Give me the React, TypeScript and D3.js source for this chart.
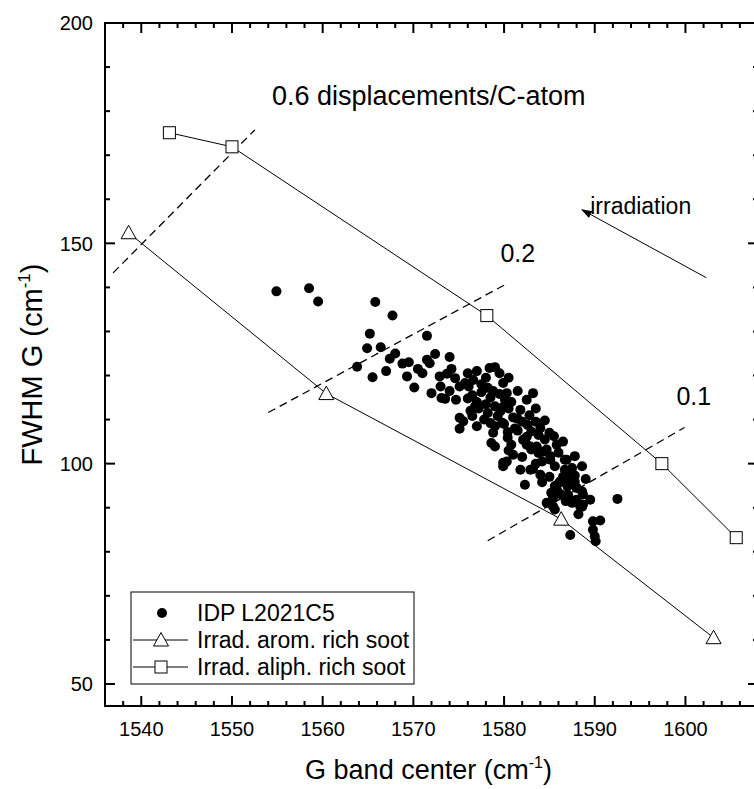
import React from "react";
import * as d3 from "d3";

const idpPoints: [number, number][] = [
  [1554.9,139.1],[1558.5,139.8],[1559.5,136.8],[1565.8,136.7],[1567.7,133.6],[1565.2,129.5],[1564.9,126.2],[1566.4,126.4],
  [1563.8,122.0],[1565.5,119.6],[1567.4,123.8],[1568.8,122.7],[1569.5,123.0],[1569.3,119.8],[1570.1,117.3],[1571.5,129.0],
  [1571.5,123.6],[1572.4,124.9],[1571.8,122.8],[1574.0,124.2],[1572.9,119.8],[1573.7,120.4],[1574.6,119.4],[1573.1,114.9],
  [1573.5,114.7],[1574.7,114.5],[1575.1,117.5],[1575.7,118.3],[1576.1,117.5],[1576.6,119.0],[1578.4,121.7],[1579.0,121.9],
  [1578.2,117.2],[1579.9,118.3],[1580.3,116.0],[1580.1,114.5],[1579.6,111.9],[1583.2,116.0],[1581.8,112.2],[1575.1,110.4],
  [1575.5,109.6],[1575.1,107.9],[1578.8,107.0],[1579.0,103.9],[1578.6,104.7],[1580.8,104.3],[1582.6,108.8],[1583.0,107.3],
  [1584.0,108.1],[1582.1,105.4],[1582.5,104.3],[1583.0,103.2],[1583.6,103.9],[1583.8,102.4],[1584.7,103.2],[1585.1,101.7],
  [1585.8,104.3],[1580.3,100.5],[1579.9,99.4],[1581.8,98.6],[1582.9,98.6],[1583.2,98.8],[1582.3,95.2],[1585.6,99.4],
  [1586.9,100.9],[1586.7,98.6],[1587.8,101.7],[1588.6,99.4],[1586.2,96.0],[1587.0,94.8],[1587.8,97.3],[1586.5,97.0],
  [1585.6,94.9],[1585.2,93.4],[1585.4,92.2],[1586.3,93.0],[1584.7,91.1],[1585.4,90.3],[1585.6,89.6],[1587.1,92.6],
  [1587.5,91.1],[1588.4,90.3],[1588.7,90.7],[1588.6,93.7],[1588.7,93.0],[1589.5,91.8],[1592.5,92.0],[1589.8,86.9],
  [1590.6,87.1],[1589.8,85.0],[1590.0,83.5],[1590.1,82.4],[1587.3,83.8],
  [1579.9,112.9],[1579.8,109.3],[1581.2,108.0],[1581.5,110.2],[1580.4,107.2],[1580.4,105.9],[1582.5,106.1],[1582.9,103.9],
  [1584.3,102.7],[1585.1,100.9],[1586.7,100.9],[1579.9,100.2],[1586.9,98.0],[1587.3,96.4],[1587.8,95.9],[1585.9,93.7],
  [1587.0,93.0],[1588.0,91.8],[1588.6,90.2],
  [1576.5,115.5],[1577.0,114.0],[1577.5,116.2],[1578.0,113.5],[1578.5,115.0],[1579.0,113.0],[1577.2,112.5],[1576.8,113.0],
  [1578.2,111.5],[1579.3,110.8],[1577.8,110.0],[1576.0,114.8],[1576.3,112.0],[1578.8,116.5],[1577.5,118.0],[1579.5,115.8],
  [1580.8,114.0],[1580.5,112.5],[1581.0,110.5],[1582.0,109.5],[1581.5,107.5],[1583.5,109.5],[1580.0,109.0],[1579.0,108.5],
  [1577.0,108.5],[1576.5,110.8],[1578.5,109.2],[1582.8,111.0],[1584.5,105.5],[1584.2,100.5],[1583.5,100.0],[1581.0,102.0],
  [1580.5,103.0],[1582.0,101.5],[1584.0,97.5],[1585.0,97.0],[1586.0,95.5],[1587.0,96.0],[1588.0,94.5],[1587.5,99.0],
  [1586.0,102.5],[1589.0,96.5],[1588.2,88.5],[1586.8,91.5],[1584.2,95.8],[1583.8,106.5],[1574.0,116.5],[1573.0,117.5],
  [1572.0,116.0],[1571.0,120.5],[1570.5,121.5],[1568.0,125.0],[1567.0,121.0],[1574.2,121.5],[1576.0,120.5],[1577.0,121.0],
  [1578.0,119.5],[1580.5,119.5],[1579.5,120.5],[1581.5,116.5],[1582.5,114.5],[1583.5,112.5],[1584.5,109.8],[1585.0,107.0],
  [1586.5,105.0],[1585.5,106.2],
];

const aromX = [1538.6, 1560.4, 1586.3, 1603.1];
const aromY = [152.4, 115.9, 87.4, 60.5];
const aliphX = [1543.1, 1550.0, 1578.1, 1597.4, 1605.6];
const aliphY = [175.1, 171.9, 133.6, 100.0, 83.2];

const dashed06: [number, number][] = [[1536.9, 143.3], [1552.5, 175.7]];
const dashed02: [number, number][] = [[1554.0, 111.6], [1580.1, 140.6]];
const dashed01: [number, number][] = [[1578.2, 82.5], [1599.9, 108.2]];

const xMajor = [1540, 1550, 1560, 1570, 1580, 1590, 1600];
const yMajor = [50, 100, 150, 200];

const legendLabels = ["IDP L2021C5", "Irrad. arom. rich soot", "Irrad. aliph. rich soot"];

const W = 754, H = 789;
const L = 105, R = 758, T = 23, B = 706;

const font = "'Liberation Sans', Arial, Helvetica, sans-serif";

function tri(cx: number, cy: number) {
  return `M${cx},${cy - 7.5}L${cx + 7.5},${cy + 6}L${cx - 7.5},${cy + 6}Z`;
}

export default function App() {
  const x = d3.scaleLinear().domain([1536, 1608]).range([L, R]);
  const y = d3.scaleLinear().domain([45, 200]).range([B, T]);
  const line = d3.line<[number, number]>().x((d) => x(d[0])).y((d) => y(d[1]));

  const xMinor = d3.range(1536, 1609, 2).filter((v) => v % 10 !== 0);
  const yMinor = d3.range(50, 201, 10).filter((v) => v % 50 !== 0);

  const aromPts = aromX.map((v, i) => [v, aromY[i]] as [number, number]);
  const aliphPts = aliphX.map((v, i) => [v, aliphY[i]] as [number, number]);

  const legX = 131, legTop = 592, legBot = 684, legR = 414;
  const rows = [613, 640, 667];

  return (
    <svg width={W} height={H} style={{ position: "fixed", left: 0, top: 0, background: "#fff" }} fontFamily={font}>
      <rect x={0} y={0} width={W} height={H} fill="#fff" />
      {[dashed06, dashed02, dashed01].map((d, i) => (
        <path key={i} d={line(d) || ""} fill="none" stroke="#000" strokeWidth={1.3} strokeDasharray="8,5" />
      ))}
      <path d={line(aromPts) || ""} fill="none" stroke="#000" strokeWidth={1} />
      <path d={line(aliphPts) || ""} fill="none" stroke="#000" strokeWidth={1} />
      {idpPoints.map((d, i) => (
        <circle key={i} cx={x(d[0])} cy={y(d[1])} r={5} fill="#000" />
      ))}
      {aromPts.map((d, i) => (
        <path key={i} d={tri(x(d[0]), y(d[1]))} fill="#fff" stroke="#000" strokeWidth={1} />
      ))}
      {aliphPts.map((d, i) => (
        <rect key={i} x={x(d[0]) - 6} y={y(d[1]) - 6} width={12} height={12} fill="#fff" stroke="#000" strokeWidth={1} />
      ))}
      <text x={x(1554.4)} y={y(181.4)} fontSize={27}>0.6 displacements/C-atom</text>
      <text x={x(1579.6)} y={y(145.8)} fontSize={25}>0.2</text>
      <text x={x(1599.0)} y={y(113.2)} fontSize={25}>0.1</text>
      <text x={x(1589.5)} y={y(156.7)} fontSize={23}>irradiation</text>
      <defs>
        <marker id="ah" viewBox="0 0 10 10" refX={9} refY={5} markerWidth={11} markerHeight={11} markerUnits="userSpaceOnUse" orient="auto">
          <path d="M0,1.5L10,5L0,8.5Z" fill="#000" />
        </marker>
      </defs>
      <line x1={x(1602.3)} y1={y(142.2)} x2={x(1588.6)} y2={y(157.6)} stroke="#000" strokeWidth={1} markerEnd="url(#ah)" />
      <rect x={legX} y={legTop} width={legR - legX} height={legBot - legTop} fill="#fff" stroke="#000" strokeWidth={1} />
      <circle cx={162} cy={rows[0]} r={5} fill="#000" />
      <line x1={133} x2={188} y1={rows[1]} y2={rows[1]} stroke="#000" strokeWidth={1} />
      <path d={tri(161, rows[1])} fill="#fff" stroke="#000" />
      <line x1={133} x2={188} y1={rows[2]} y2={rows[2]} stroke="#000" strokeWidth={1} />
      <rect x={155} y={rows[2] - 6} width={12} height={12} fill="#fff" stroke="#000" />
      {legendLabels.map((t, i) => (
        <text key={i} x={197} y={rows[i]} dy="0.36em" fontSize={23}>{t}</text>
      ))}
      <rect x={L} y={T} width={R - L} height={B - T} fill="none" stroke="#000" strokeWidth={2} />
      {xMajor.map((v) => (
        <g key={"xm" + v}>
          <line x1={x(v)} x2={x(v)} y1={B} y2={B - 10} stroke="#000" strokeWidth={2} />
          <line x1={x(v)} x2={x(v)} y1={T} y2={T + 10} stroke="#000" strokeWidth={2} />
          <text x={x(v)} y={736} textAnchor="middle" fontSize={20}>{v}</text>
        </g>
      ))}
      {xMinor.map((v) => (
        <g key={"xn" + v}>
          <line x1={x(v)} x2={x(v)} y1={B} y2={B - 5} stroke="#000" strokeWidth={2} />
          <line x1={x(v)} x2={x(v)} y1={T} y2={T + 5} stroke="#000" strokeWidth={2} />
        </g>
      ))}
      {yMajor.map((v) => (
        <g key={"ym" + v}>
          <line x1={L} x2={L + 10} y1={y(v)} y2={y(v)} stroke="#000" strokeWidth={2} />
          <line x1={R} x2={R - 10} y1={y(v)} y2={y(v)} stroke="#000" strokeWidth={2} />
          <text x={93} y={y(v)} dy="0.36em" textAnchor="end" fontSize={20}>{v}</text>
        </g>
      ))}
      {yMinor.map((v) => (
        <g key={"yn" + v}>
          <line x1={L} x2={L + 5} y1={y(v)} y2={y(v)} stroke="#000" strokeWidth={2} />
          <line x1={R} x2={R - 5} y1={y(v)} y2={y(v)} stroke="#000" strokeWidth={2} />
        </g>
      ))}
      <text x={(L + R) / 2 - 3} y={779} textAnchor="middle" fontSize={27}>
        G band center (cm<tspan dy={-11} fontSize={16}>-1</tspan><tspan dy={11}>)</tspan>
      </text>
      <text transform={`translate(42,${(T + B) / 2}) rotate(-90)`} textAnchor="middle" fontSize={29}>
        FWHM G (cm<tspan dy={-12} fontSize={17}>-1</tspan><tspan dy={12}>)</tspan>
      </text>
    </svg>
  );
}
